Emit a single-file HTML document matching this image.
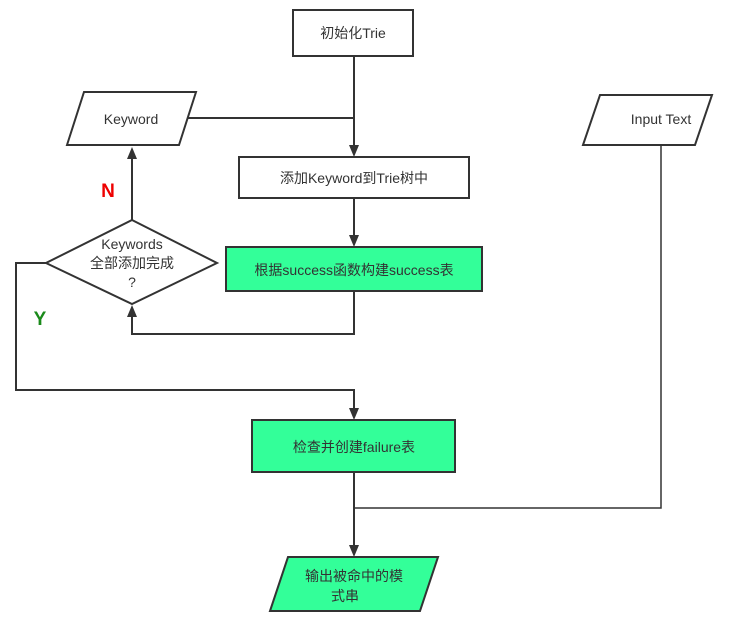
<!DOCTYPE html>
<html><head><meta charset="utf-8"><style>body{margin:0;background:#fff}</style></head><body>
<svg width="751" height="619" xmlns="http://www.w3.org/2000/svg" font-family="Liberation Sans, Noto Sans CJK SC, sans-serif" font-size="14" fill="#333">
<defs><marker id="a" markerWidth="10" markerHeight="12" refX="5" refY="12" orient="auto" markerUnits="userSpaceOnUse" viewBox="0 0 10 12"><path d="M0,0 L10,0 L5,12 Z" fill="#333" transform="rotate(0)"/></marker></defs>
<g stroke="#333" stroke-width="2" fill="none">
<rect x="293" y="10" width="120" height="46" fill="#fff"/>
<polygon points="67,145 84,92 196,92 179,145" fill="#fff"/>
<polygon points="583,145 600,95 712,95 695,145" fill="#fff"/>
<rect x="239" y="157" width="230" height="41" fill="#fff"/>
<rect x="226" y="247" width="256" height="44" fill="#33ff99"/>
<polygon points="132,220 217,263 132,304 46,263" fill="#fff"/>
<rect x="252" y="420" width="203" height="52" fill="#33ff99"/>
<polygon points="270,611 288,557 438,557 420,611" fill="#33ff99"/>
<path d="M354,56 V146"/><path d="M188,118 H354"/>
<polygon points="349,145 359,145 354,157" fill="#333" stroke="none"/>
<path d="M354,198 V236"/><polygon points="349,235 359,235 354,247" fill="#333" stroke="none"/>
<path d="M354,291 V334 H132 V316"/><polygon points="127,317 137,317 132,305" fill="#333" stroke="none"/>
<path d="M132,220 V158"/><polygon points="127,159 137,159 132,147" fill="#333" stroke="none"/>
<path d="M46,263 H16 V390 H354 V409"/><polygon points="349,408 359,408 354,420" fill="#333" stroke="none"/>
<path d="M354,472 V546"/><polygon points="349,545 359,545 354,557" fill="#333" stroke="none"/>
<path d="M661,145 V508 H354" stroke-width="1.5"/>
</g>
<g text-anchor="middle">
<text x="353" y="38">初始化Trie</text>
<text x="131" y="124">Keyword</text>
<text x="661" y="124">Input Text</text>
<text x="354" y="183">添加Keyword到Trie树中</text>
<text x="354" y="275">根据success函数构建success表</text>
<text x="132" y="249">Keywords</text>
<text x="132" y="268">全部添加完成</text>
<text x="132" y="287">?</text>
<text x="354" y="452">检查并创建failure表</text>
<text x="354" y="581">输出被命中的模</text>
<text x="345" y="601">式串</text>
<text x="108" y="197" fill="#e00" font-weight="bold" font-size="19">N</text>
<text x="40" y="325" fill="#1a8a1a" font-weight="bold" font-size="19">Y</text>
</g>
</svg>
</body></html>
